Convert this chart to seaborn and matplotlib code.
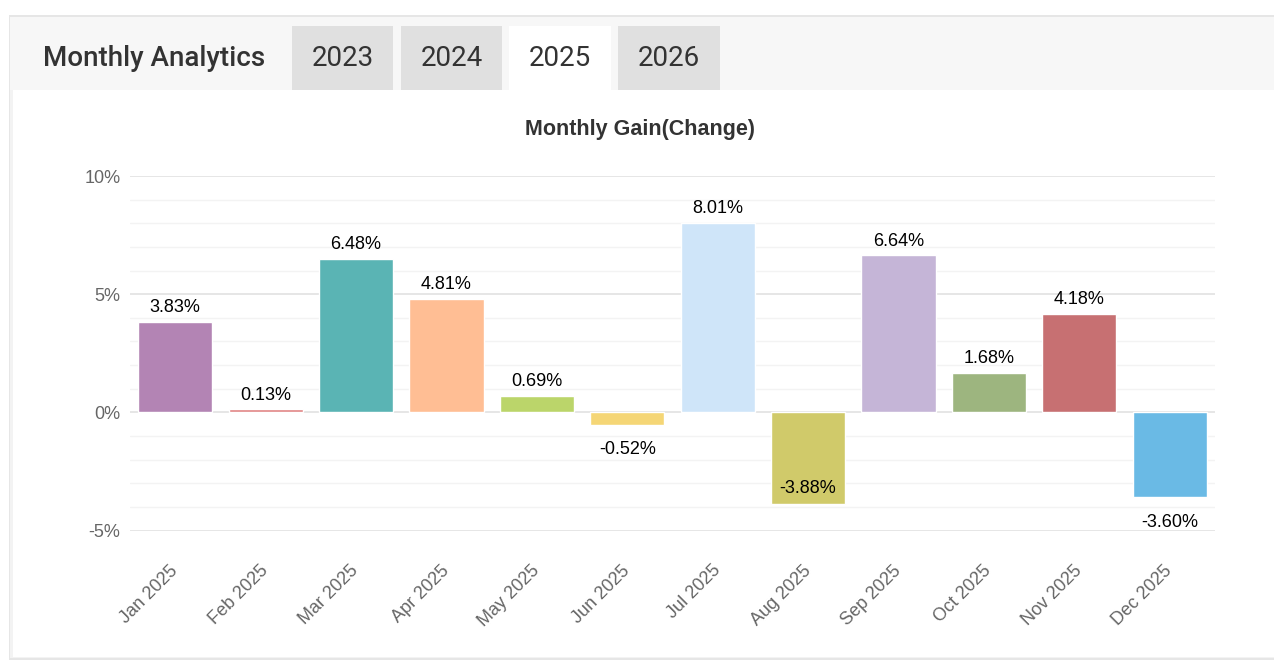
import matplotlib
matplotlib.use("Agg")
import matplotlib.pyplot as plt
import seaborn as sns
import pandas as pd
from matplotlib.patches import Rectangle
from matplotlib.ticker import MultipleLocator, FixedLocator

# ---------------- data ----------------
months = ["Jan 2025", "Feb 2025", "Mar 2025", "Apr 2025", "May 2025", "Jun 2025",
          "Jul 2025", "Aug 2025", "Sep 2025", "Oct 2025", "Nov 2025", "Dec 2025"]
gains = [3.83, 0.13, 6.48, 4.81, 0.69, -0.52, 8.01, -3.88, 6.64, 1.68, 4.18, -3.60]
bar_colors = ["#b384b4", "#e08383", "#5ab4b4", "#ffbe94", "#bbd56a", "#f5d676",
              "#cfe5f9", "#d0ca6a", "#c5b5d7", "#9db57f", "#c77072", "#6abae5"]
y_ticks = [-5, 0, 5, 10]
year_tabs = ["2023", "2024", "2025", "2026"]
active_year = "2025"
header_title = "Monthly Analytics"
chart_title = "Monthly Gain(Change)"

df = pd.DataFrame({"month": months, "gain": gains})

sns.set_theme(style="white")
plt.rcParams["font.family"] = ["Liberation Sans", "DejaVu Sans"]

W, H = 1274, 664
fig = plt.figure(figsize=(W / 100, H / 100), dpi=100)
fig.patch.set_facecolor("white")


def prect(x0, y0, x1, y1, **kw):
    fig.patches.append(Rectangle((x0 / W, 1 - y1 / H), (x1 - x0) / W, (y1 - y0) / H,
                                 transform=fig.transFigure, figure=fig, **kw))


# panel frame and header
prect(9, 15, 1290, 660, facecolor="#e6e6e6", edgecolor="none", zorder=0)
prect(10, 17, 1290, 90, facecolor="#f7f7f7", edgecolor="none", zorder=0.1)
prect(10, 90, 1290, 658, facecolor="#f3f3f3", edgecolor="none", zorder=0.1)
prect(13, 90, 1290, 657, facecolor="white", edgecolor="none", zorder=0.15)

fig.text(43 / W, 1 - 59 / H, header_title, family=["Roboto", "DejaVu Sans"],
         fontsize=20, fontweight="medium", color="#333333", ha="left", va="center")

tab_x = [(292, 393), (401, 502), (509, 611), (618, 720)]
for (x0, x1), yr in zip(tab_x, year_tabs):
    fc = "white" if yr == active_year else "#e0e0e0"
    prect(x0, 26, x1, 90, facecolor=fc, edgecolor="none", zorder=0.2)
    fig.text((x0 + x1) / 2 / W, 1 - 59 / H, yr, family=["Roboto", "DejaVu Sans"],
             fontsize=20, color="#333333", ha="center", va="center")

fig.text(640 / W, 1 - 129 / H, chart_title, fontsize=15.5, fontweight="bold",
         color="#333333", ha="center", va="center")

# ---------------- chart ----------------
left, right, top, bottom = 130, 1215, 176, 530.5
ax = fig.add_axes([left / W, 1 - bottom / H, (right - left) / W, (bottom - top) / H])
ax.set_zorder(2)
ax.set_facecolor("none")

sns.barplot(data=df, x="month", y="gain", hue="month", palette=bar_colors,
            legend=False, width=0.82, saturation=1, ax=ax, zorder=3)

ax.set_ylim(-5, 10)
ax.set_xlim(-0.5, len(months) - 0.5)
ax.yaxis.set_major_locator(FixedLocator(y_ticks))
ax.yaxis.set_minor_locator(MultipleLocator(1))
ax.set_yticklabels([f"{t}%" for t in y_ticks])
ax.grid(axis="y", which="major", color="#e4e4e4", linewidth=1.3, zorder=0)
ax.grid(axis="y", which="minor", color="#f3f3f3", linewidth=1.0, zorder=0)
ax.grid(axis="x", visible=False)
ax.set_axisbelow(True)
for s in ax.spines.values():
    s.set_visible(False)
ax.tick_params(axis="y", which="both", length=0, pad=7, labelsize=13, labelcolor="#666666")
ax.tick_params(axis="x", length=0, pad=27, labelsize=13, labelcolor="#666666")
for lab in ax.get_yticklabels():
    lab.set_va("center_baseline")
for lab in ax.get_xticklabels():
    lab.set_rotation(45)
    lab.set_ha("right")
    lab.set_va("center")
    lab.set_rotation_mode("anchor")
ax.set_xlabel("")
ax.set_ylabel("")

px_per_unit = (bottom - top) / 15.0
for i, v in enumerate(gains):
    if v >= 0:
        ax.annotate(f"{v:.2f}%", (i, v), xytext=(0, 7), textcoords="offset points",
                    ha="center", va="baseline", fontsize=13, color="black", zorder=5)
    else:
        below = v - 30 / px_per_unit
        if below < -5:
            ax.annotate(f"{v:.2f}%", (i, v), xytext=(0, 8), textcoords="offset points",
                        ha="center", va="baseline", fontsize=13, color="black", zorder=5)
        else:
            ax.annotate(f"{v:.2f}%", (i, v), xytext=(0, -21.5), textcoords="offset points",
                        ha="center", va="baseline", fontsize=13, color="black", zorder=5)

fig.savefig("out.png", dpi=100)
